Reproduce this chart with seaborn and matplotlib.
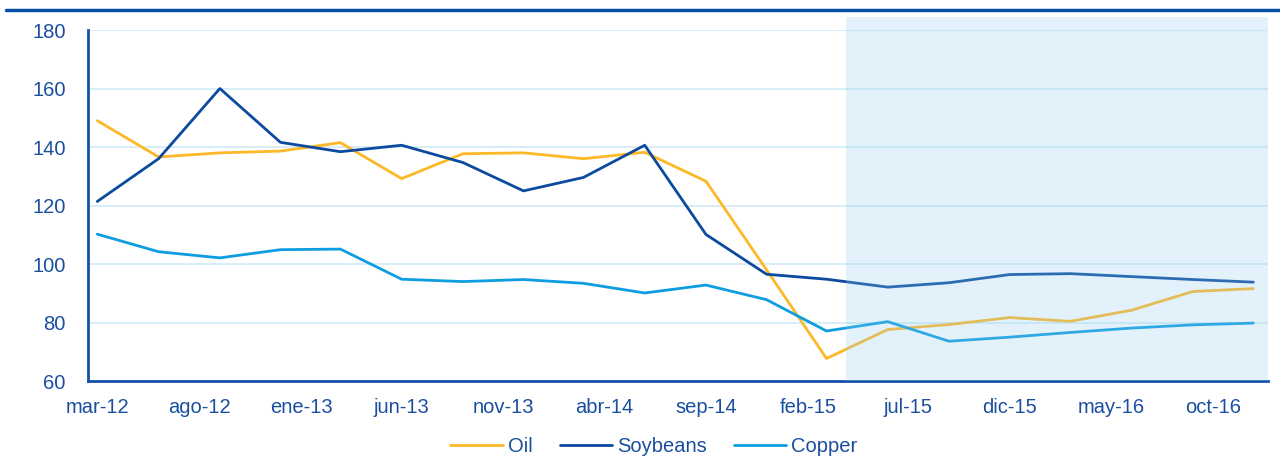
import numpy as np
import pandas as pd
import seaborn as sns
import matplotlib.pyplot as plt
from matplotlib.lines import Line2D

# Trimestral, mar-12 .. dic-16
fechas = pd.date_range('2012-03-01', periods=20, freq='3MS') + pd.Timedelta(days=14)
oil = [149, 136.6, 138, 138.6, 141.5, 129.2, 137.7, 138, 136, 138.2,
       128.3, 98, 67.7, 77.6, 79.3, 81.7, 80.4, 84.2, 90.6, 91.6]
soybeans = [121.4, 136, 160, 141.6, 138.4, 140.6, 134.7, 125, 129.6, 140.6,
            110.1, 96.5, 94.8, 92.1, 93.6, 96.4, 96.7, 95.7, 94.7, 93.8]
copper = [110.2, 104.2, 102.1, 104.9, 105.1, 94.8, 94, 94.7, 93.4, 90.1,
          92.8, 87.8, 77.1, 80.3, 73.6, 75, 76.6, 78.1, 79.2, 79.8]
series = ['Oil', 'Soybeans', 'Copper']
colores = ['#FDB827', '#0B4A9E', '#0E9DE0']
tick_fechas = pd.date_range('2012-03-01', periods=12, freq='5MS')
tick_labels = ['mar-12', 'ago-12', 'ene-13', 'jun-13', 'nov-13', 'abr-14',
               'sep-14', 'feb-15', 'jul-15', 'dic-15', 'may-16', 'oct-16']

df = pd.DataFrame({'fecha': np.tile(fechas, 3),
                   'valor': oil + soybeans + copper,
                   'serie': np.repeat(series, 20)})

sns.set_style('white')
plt.rcParams['font.family'] = ['Liberation Sans', 'DejaVu Sans']
azul = '#1550A8'
azul_txt = '#1A4FA0'
fs = 14.5

fig = plt.figure(figsize=(12.8, 4.69), dpi=100)
ax = fig.add_axes([0.06875, 0.1876, 0.9219, 0.7484])

sns.lineplot(data=df, x='fecha', y='valor', hue='serie', palette=colores,
             linewidth=2.0, ax=ax, legend=True)

ax.set_xlim(pd.Timestamp('2012-03-01'), pd.Timestamp('2017-01-06'))
ax.set_ylim(60, 180)
ax.set_yticks(range(60, 181, 20))
# marcas al inicio de mes, etiquetas a mitad de mes
ax.set_xticks(tick_fechas)
ax.set_xticklabels([''] * len(tick_fechas))
ax.set_xticks(tick_fechas + pd.Timedelta(days=14), minor=True)
ax.set_xticklabels(tick_labels, minor=True)
ax.set_xlabel('')
ax.set_ylabel('')

for y in range(80, 181, 20):
    ax.axhline(y, color='#CDE8F6', linewidth=1.1, zorder=0)

for s in ['top', 'right']:
    ax.spines[s].set_visible(False)
for s in ['left', 'bottom']:
    ax.spines[s].set_color(azul)
    ax.spines[s].set_linewidth(2)
ax.tick_params(axis='both', which='major', colors=azul, labelsize=fs,
               length=5, width=2, direction='out')
ax.tick_params(axis='y', pad=11, labelcolor=azul_txt)
ax.tick_params(axis='x', which='minor', length=0, pad=12, labelsize=fs,
               labelcolor=azul_txt)

# zona de proyección
sombra = ax.axvspan(pd.Timestamp('2015-04-14'), pd.Timestamp('2017-01-06'),
                    ymin=0, ymax=1.037, color='#93CFEF', alpha=0.25,
                    linewidth=0, zorder=10)
sombra.set_clip_on(False)

handles, labels = ax.get_legend_handles_labels()
fig.legend(handles, labels, loc='center', bbox_to_anchor=(0.511, 0.047),
           ncol=3, frameon=False, fontsize=fs, handlelength=2.6,
           handletextpad=0.25, columnspacing=1.35, labelcolor=azul_txt)
ax.get_legend().remove()

fig.add_artist(Line2D([0.005, 1.0], [0.978, 0.978], color='#0A4FA6',
                      linewidth=2.5, transform=fig.transFigure))

fig.savefig('out.png', dpi=100)
